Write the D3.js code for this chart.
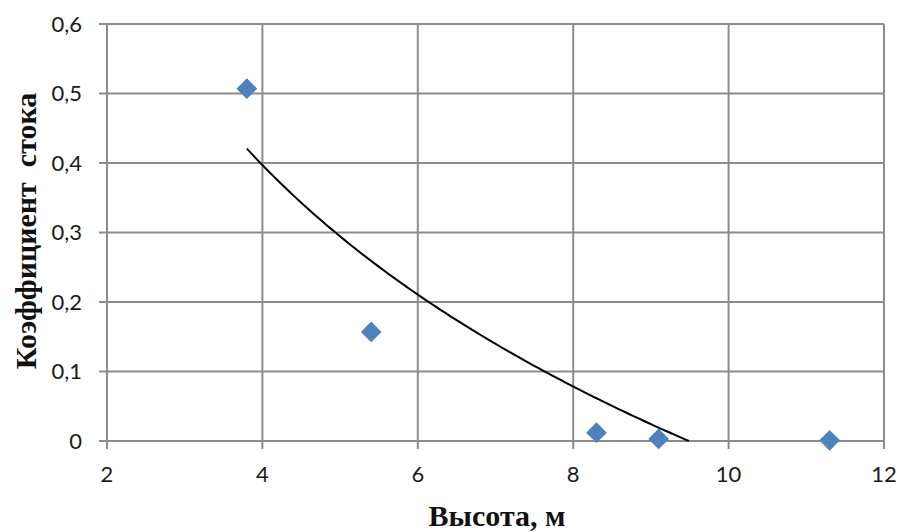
<!DOCTYPE html>
<html>
<head>
<meta charset="utf-8">
<script src="https://cdn.jsdelivr.net/npm/d3@7"></script>
<style>
  html, body { margin: 0; padding: 0; background: #fff; }
  svg { display: block; }
</style>
</head>
<body>
<svg id="chart" width="900" height="532"></svg>
<script>
// Observed runoff coefficient vs. height
const heights = [3.8, 5.4, 8.3, 9.1, 11.3];
const runoff = [0.507, 0.157, 0.012, 0.003, 0.001];

const xTicks = [2, 4, 6, 8, 10, 12];
const yTicks = [0, 0.1, 0.2, 0.3, 0.4, 0.5, 0.6];
const xTitle = "Высота, м";
const yTitle = "Коэффициент  стока";

const W = 900, H = 532;
const margin = { left: 107, right: 16, top: 24, bottom: 91 };

const svg = d3.select("#chart");
const x = d3.scaleLinear().domain([2, 12]).range([margin.left, W - margin.right]);
const y = d3.scaleLinear().domain([0, 0.6]).range([H - margin.bottom, margin.top]);

const fmt = v => String(+v.toFixed(1)).replace(".", ",");
const gridColor = "#8c8c8c";

// Gridlines
svg.append("g").selectAll("line.h").data(yTicks).join("line")
  .attr("x1", x(2) - 8).attr("x2", x(12))
  .attr("y1", d => y(d)).attr("y2", d => y(d))
  .attr("stroke", gridColor).attr("stroke-width", 2);
svg.append("g").selectAll("line.v").data(xTicks).join("line")
  .attr("x1", d => x(d)).attr("x2", d => x(d))
  .attr("y1", y(0.6)).attr("y2", y(0) + 8)
  .attr("stroke", gridColor).attr("stroke-width", 2);

// Tick labels
const tickFont = "Lato, 'Open Sans', sans-serif";
svg.append("g").selectAll("text").data(yTicks).join("text")
  .attr("x", x(2) - 25).attr("y", d => y(d))
  .attr("dy", "0.35em").attr("text-anchor", "end")
  .attr("font-family", tickFont).attr("font-size", 22).attr("fill", "#1a1a1a")
  .text(fmt);
svg.append("g").selectAll("text").data(xTicks).join("text")
  .attr("x", d => x(d)).attr("y", y(0) + 33)
  .attr("dy", "0.35em").attr("text-anchor", "middle")
  .attr("font-family", tickFont).attr("font-size", 22).attr("fill", "#1a1a1a")
  .text(fmt);

// Axis titles
svg.append("text")
  .attr("x", 497).attr("y", 526)
  .attr("text-anchor", "middle")
  .attr("font-family", "'Liberation Serif', serif").attr("font-weight", "bold")
  .attr("font-size", 30).attr("fill", "#111")
  .text(xTitle);
svg.append("text")
  .attr("transform", `translate(36, 231) rotate(-90)`)
  .attr("text-anchor", "middle")
  .attr("font-family", "'Liberation Serif', serif").attr("font-weight", "bold")
  .attr("font-size", 30).attr("fill", "#111")
  .attr("xml:space", "preserve")
  .text(yTitle);

// Logarithmic trendline fitted to the observations: y = a ln(x) + b
const lx = heights.map(Math.log);
const mx = d3.mean(lx), my = d3.mean(runoff);
const a = d3.sum(lx, (v, i) => (v - mx) * (runoff[i] - my)) / d3.sum(lx, v => (v - mx) ** 2);
const b = my - a * mx;
const xEnd = Math.exp(-b / a); // where the trend crosses zero
const trendX = d3.range(0, 101).map(i => heights[0] + (xEnd - heights[0]) * i / 100);

svg.append("path")
  .datum(trendX)
  .attr("d", d3.line().x(d => x(d)).y(d => y(Math.max(0, a * Math.log(d) + b))))
  .attr("fill", "none").attr("stroke", "#000").attr("stroke-width", 2);

// Markers
svg.append("g").selectAll("path").data(heights).join("path")
  .attr("d", d3.symbol().type(d3.symbolSquare).size(215))
  .attr("transform", (d, i) => `translate(${x(d)},${y(runoff[i])}) rotate(45)`)
  .attr("fill", "#4f81bd");
</script>
</body>
</html>
